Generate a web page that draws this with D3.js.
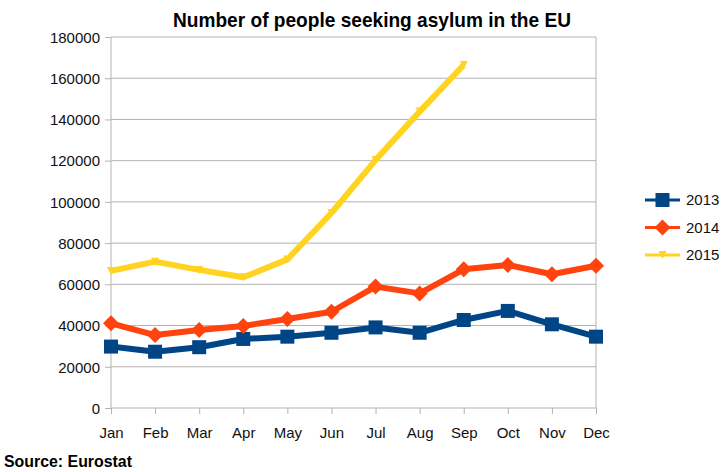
<!DOCTYPE html>
<html>
<head>
<meta charset="utf-8">
<script src="https://cdn.jsdelivr.net/npm/d3@7/dist/d3.min.js"></script>
<style>
  html, body { margin: 0; padding: 0; background: #fff; }
  svg { display: block; }
  text { font-family: "Liberation Sans", Arial, sans-serif; }
</style>
</head>
<body>
<svg id="chart" width="725" height="472"></svg>
<script>
// Monthly asylum applications in the EU
const months = ["Jan", "Feb", "Mar", "Apr", "May", "Jun", "Jul", "Aug", "Sep", "Oct", "Nov", "Dec"];
const yTicks = [0, 20000, 40000, 60000, 80000, 100000, 120000, 140000, 160000, 180000];
const seriesNames = ["2013", "2014", "2015"];
const values2013 = [29800, 27300, 29500, 33500, 34600, 36500, 39100, 36500, 42700, 47100, 40600, 34600];
const values2014 = [41100, 35400, 37800, 39800, 43200, 46700, 58900, 55600, 67300, 69400, 64900, 69000];
const values2015 = [66500, 71000, 67000, 63400, 72100, 94600, 120300, 143800, 166400];

const colors = { "2013": "#004586", "2014": "#ff420e", "2015": "#ffd320" };
const series = [
  { name: "2013", values: values2013, marker: "square", width: 6 },
  { name: "2014", values: values2014, marker: "diamond", width: 6 },
  { name: "2015", values: values2015, marker: "triangle", width: 6 }
];

const svg = d3.select("#chart");
const margin = { left: 111, right: 129, top: 37, bottom: 64 };
const W = 725, H = 472;

const x = d3.scalePoint().domain(months).range([margin.left, W - margin.right]);
const y = d3.scaleLinear().domain([0, 180000]).range([H - margin.bottom, margin.top]);

// Title (condensed bold)
svg.append("text")
  .attr("x", 372).attr("y", 27)
  .attr("text-anchor", "middle")
  .attr("font-size", 21).attr("font-weight", "bold")
  .attr("textLength", 398).attr("lengthAdjust", "spacingAndGlyphs")
  .attr("fill", "#000")
  .text("Number of people seeking asylum in the EU");

// Horizontal grid lines
svg.append("g").selectAll("line").data(yTicks).join("line")
  .attr("x1", margin.left).attr("x2", W - margin.right)
  .attr("y1", d => y(d)).attr("y2", d => y(d))
  .attr("stroke", "#b3b3b3").attr("stroke-width", 1);

// Plot frame (left and right sides)
svg.append("line")
  .attr("x1", margin.left).attr("x2", margin.left)
  .attr("y1", margin.top).attr("y2", H - margin.bottom)
  .attr("stroke", "#b3b3b3");
svg.append("line")
  .attr("x1", W - margin.right).attr("x2", W - margin.right)
  .attr("y1", margin.top).attr("y2", H - margin.bottom)
  .attr("stroke", "#b3b3b3");

// Y axis
const yAxis = d3.axisLeft(y).tickValues(yTicks).tickFormat(d3.format("d")).tickSize(6).tickPadding(5);
const gy = svg.append("g").attr("transform", `translate(${margin.left},0)`).call(yAxis);
gy.select(".domain").remove();
gy.selectAll(".tick line").attr("stroke", "#b3b3b3");
gy.selectAll(".tick text").attr("font-family", "'Liberation Sans', Arial, sans-serif")
  .attr("font-size", 15).attr("fill", "#111").attr("dy", "0.35em");

// X axis
const xAxis = d3.axisBottom(x).tickSize(6).tickPadding(13);
const gx = svg.append("g").attr("transform", `translate(0,${H - margin.bottom})`).call(xAxis);
gx.select(".domain").remove();
gx.selectAll(".tick line").attr("stroke", "#b3b3b3");
gx.selectAll(".tick text").attr("font-family", "'Liberation Sans', Arial, sans-serif")
  .attr("font-size", 15).attr("fill", "#111");

// Marker shapes
function markerPath(type, cx, cy) {
  if (type === "square") {
    const s = 7;
    return `M${cx - s},${cy - s}H${cx + s}V${cy + s}H${cx - s}Z`;
  }
  if (type === "diamond") {
    const s = 8;
    return `M${cx},${cy - s}L${cx + s},${cy}L${cx},${cy + s}L${cx - s},${cy}Z`;
  }
  const s = 4;
  return `M${cx - s},${cy - s}L${cx + s},${cy - s}L${cx},${cy + s}Z`;
}

const line = d3.line().x((d, i) => x(months[i])).y(d => y(d));

const gSeries = svg.append("g");
series.forEach(s => {
  const g = gSeries.append("g");
  g.append("path")
    .datum(s.values)
    .attr("d", line)
    .attr("fill", "none")
    .attr("stroke", colors[s.name])
    .attr("stroke-width", s.width)
    .attr("stroke-linejoin", "round");
  g.selectAll("path.m").data(s.values).join("path")
    .attr("class", "m")
    .attr("d", (d, i) => markerPath(s.marker, x(months[i]), y(d)))
    .attr("fill", colors[s.name]);
});

// Legend
const legend = svg.append("g");
seriesNames.forEach((name, i) => {
  const ly = 200 + i * 27.5;
  const s = series[i];
  legend.append("line")
    .attr("x1", 645).attr("x2", 680).attr("y1", ly).attr("y2", ly)
    .attr("stroke", colors[name]).attr("stroke-width", 3);
  legend.append("path")
    .attr("d", markerPath(s.marker, 662.5, ly))
    .attr("fill", colors[name]);
  legend.append("text")
    .attr("x", 686).attr("y", ly).attr("dy", "0.35em")
    .attr("font-family", "'Liberation Sans', Arial, sans-serif")
    .attr("font-size", 15).attr("fill", "#111")
    .text(name);
});

// Source note
svg.append("text")
  .attr("x", 4).attr("y", 467)
  .attr("font-size", 16).attr("font-weight", "bold")
  .attr("textLength", 128).attr("lengthAdjust", "spacingAndGlyphs")
  .attr("fill", "#000")
  .text("Source: Eurostat");
</script>
</body>
</html>
